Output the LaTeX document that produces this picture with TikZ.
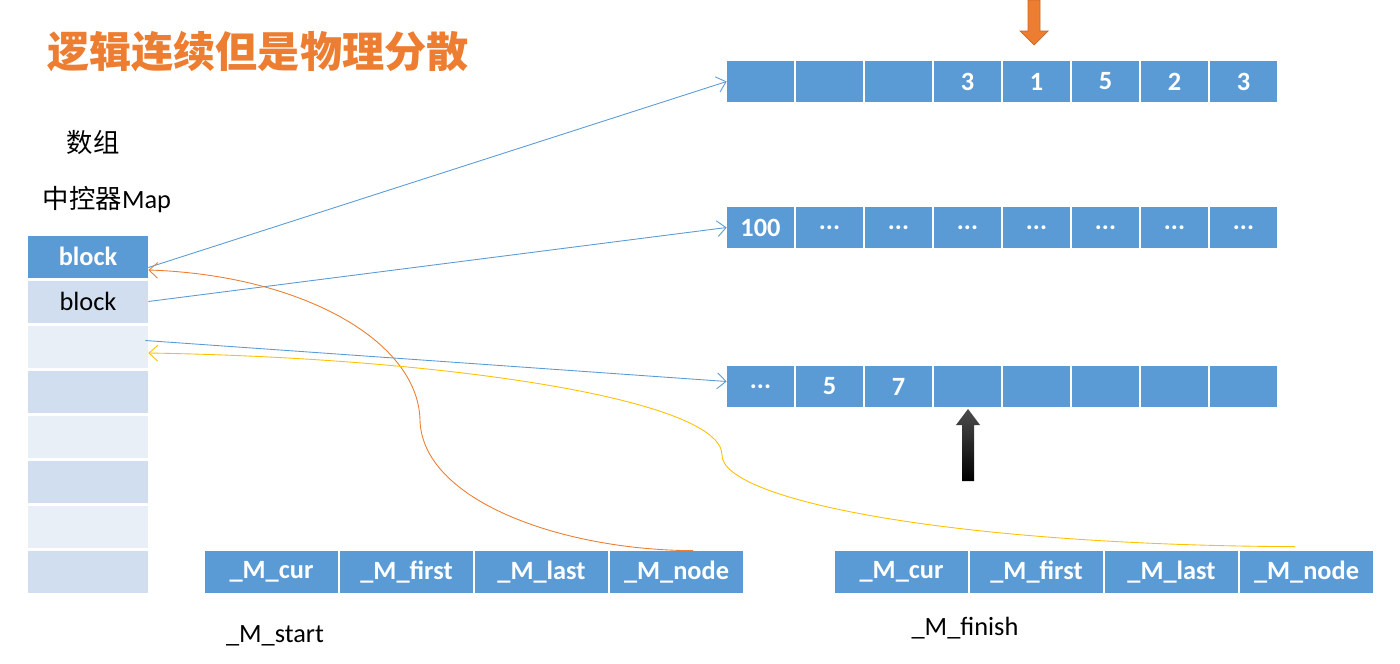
\documentclass[tikz,border=0pt]{standalone}
\usepackage{fontspec}
\setmainfont{Carlito}
\newfontfamily\cjk{Noto Sans CJK SC}
\usetikzlibrary{arrows.meta,calc}
\definecolor{CellBlue}{HTML}{5B9BD5}
\definecolor{MapLight}{HTML}{D0DEEF}
\definecolor{MapPale}{HTML}{E9EFF7}
\definecolor{LinkOrange}{HTML}{ED7D31}
\definecolor{LinkGold}{HTML}{FFC000}
\newcommand{\ellip}{...}
\tikzset{
    cell/.style = {fill=CellBlue, text=white, inner sep=0pt,
        minimum height=0.82cm, minimum width=1.34cm,
        font=\fontsize{15}{18}\selectfont\bfseries},
    mapcell/.style = {inner sep=0pt, minimum height=0.84cm,
        minimum width=2.4cm, font=\fontsize{15}{18}\selectfont},
    field/.style = {cell, minimum height=0.84cm, minimum width=2.66cm},
    caption/.style = {inner sep=0pt, font=\fontsize{15}{18}\selectfont},
    title/.style = {inner sep=0pt, text=LinkOrange,
        font=\fontsize{24}{28}\selectfont\cjk\bfseries},
    link/.style = {draw, line width=0.5pt, -{Straight Barb[length=5pt,width=9pt]}}
}

\begin{document}
\begin{tikzpicture}[x=0.02cm,y=-0.02cm]
    \useasboundingbox (0,0) rectangle (1400,663);
    \node[title] (title) at (258,52) {逻辑连续但是物理分散};
    \node[caption] (arr) at (93,143) {\cjk 数组};
    \node[caption] (map) at (107,200) {{\cjk 中控器}Map};
    % map of block pointers
    \foreach \i/\col/\txt in {1/CellBlue/{\bfseries\color{white}block},2/MapLight/block,3/MapPale/{},4/MapLight/{},5/MapPale/{},6/MapLight/{},7/MapPale/{},8/MapLight/{}}{
        \node[mapcell,fill=\col] (m\i) at (88,211.5+45*\i) {\txt};
    }
    % buffers
    \foreach \t [count=\i] in {{},{},{},3,1,5,2,3}{
        \node[cell] (a\i) at (691.5+69*\i,81.5) {\t};
    }
    \foreach \t [count=\i] in {100,\ellip,\ellip,\ellip,\ellip,\ellip,\ellip,\ellip}{
        \node[cell] (b\i) at (691.5+69*\i,227.5) {\t};
    }
    \foreach \t [count=\i] in {\ellip,5,7,{},{},{},{},{}}{
        \node[cell] (c\i) at (691.5+69*\i,386.5) {\t};
    }
    % iterators
    \foreach \t [count=\i] in {\_M\_cur,\_M\_first,\_M\_last,\_M\_node}{
        \node[field] (s\i) at (136.5+135*\i,572) {\t};
        \node[field] (f\i) at (766.5+135*\i,572) {\t};
    }
    \node[caption] (start) at (275,636) {\_M\_start};
    \node[caption] (finish) at (965,628) {\_M\_finish};
    % map entries to buffers
    \draw[link,CellBlue] ([yshift=-0.22cm]m1.east) -- (a1.west);
    \draw[link,CellBlue] (m2.east) -- (b1.west);
    \draw[link,CellBlue] ([xshift=-0.06cm,yshift=0.12cm]m3.east) -- ([yshift=0.1cm]c1.west);
    % node pointers back to the map
    \draw[link,LinkOrange] ([xshift=0.33cm]s4.north) .. controls (560,550) and (422,500) .. (420,420)
        .. controls (418,340) and (300,275) .. ([yshift=-0.27cm]m1.east);
    \draw[link,LinkGold] ([xshift=-0.23cm,yshift=0.08cm]f4.north) .. controls (950,545) and (722,500) .. (722,455)
        .. controls (722,400) and (450,358) .. ([yshift=-0.13cm]m3.east);
    % cur markers
    \filldraw[fill=LinkOrange,draw=LinkOrange!85!black,line width=0.4pt]
        (1028,0) -- (1040,0) -- (1040,31) -- (1048,31) -- (1034,45) -- (1020,31) -- (1028,31) -- cycle;
    \shade[top color=black!70, bottom color=black]
        (962,481) -- (962,425) -- (956,425) -- (968,409) -- (980,425) -- (974,425) -- (974,481) -- cycle;
\end{tikzpicture}
\end{document}
